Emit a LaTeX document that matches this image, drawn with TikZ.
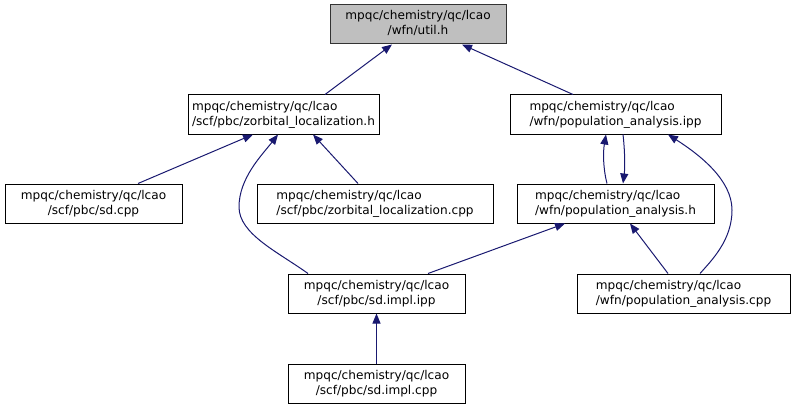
\documentclass[tikz,border=0pt]{standalone}
\usepackage{fontspec}
\setmainfont{DejaVu Sans}
\usetikzlibrary{arrows.meta, positioning}

\definecolor{edgeblue}{RGB}{25,25,112}
\definecolor{rootgray}{RGB}{191,191,191}

% first line flush left, second line centred (as graphviz sets it)
\newcommand{\flabel}[2]{\begin{tabular}{@{}l@{}}#1\\\multicolumn{1}{@{}c@{}}{#2}\end{tabular}}

\begin{document}
\begin{tikzpicture}[
    x=1pt, y=-1pt,
    file/.style={rectangle, draw=black, line width=1pt, minimum height=39pt, inner sep=0pt, font=\fontsize{12.1}{15}\selectfont},
    root/.style={file, fill=rootgray, draw=black!80},
    edge/.style={{Triangle[length=10pt, width=8pt]}-, draw=edgeblue, line width=1pt}
]
    \useasboundingbox (0,0) rectangle (794,409);

    % ========== Top: the header ==========
    \node[root, minimum width=176pt] (util_h) at (418,24.5) {\flabel{mpqc/chemistry/qc/lcao}{/wfn/util.h}};

    % ========== Row 1 ==========
    \node[file, minimum width=191pt] (zorb_h) at (283.5,114.5) {\flabel{mpqc/chemistry/qc/lcao}{/scf/pbc/zorbital\_localization.h}};
    \node[file, minimum width=211pt] (pop_ipp) at (615.5,114.5) {\flabel{mpqc/chemistry/qc/lcao}{/wfn/population\_analysis.ipp}};

    % ========== Row 2 ==========
    \node[file, minimum width=177pt] (sd_cpp) at (93.5,203.5) {\flabel{mpqc/chemistry/qc/lcao}{/scf/pbc/sd.cpp}};
    \node[file, minimum width=236pt] (zorb_cpp) at (375,203.5) {\flabel{mpqc/chemistry/qc/lcao}{/scf/pbc/zorbital\_localization.cpp}};
    \node[file, minimum width=197pt] (pop_h) at (615.5,203.5) {\flabel{mpqc/chemistry/qc/lcao}{/wfn/population\_analysis.h}};

    % ========== Row 3 ==========
    \node[file, minimum width=177pt] (sd_ipp) at (376.5,293.5) {\flabel{mpqc/chemistry/qc/lcao}{/scf/pbc/sd.impl.ipp}};
    \node[file, minimum width=213pt] (pop_cpp) at (683.5,293.5) {\flabel{mpqc/chemistry/qc/lcao}{/wfn/population\_analysis.cpp}};

    % ========== Row 4 ==========
    \node[file, minimum width=177pt, below=50pt of sd_ipp] (sd_impl_cpp) {\flabel{mpqc/chemistry/qc/lcao}{/scf/pbc/sd.impl.cpp}};

    % ========== Includes (arrow at the included file) ==========
    \draw[edge] ([xshift=-26pt]util_h.south) -- ([xshift=41.5pt]zorb_h.north);
    \draw[edge] ([xshift=44pt]util_h.south) -- ([xshift=-42.5pt]pop_ipp.north);

    \draw[edge] ([xshift=-30.5pt]zorb_h.south) -- ([xshift=44.5pt]sd_cpp.north);
    \draw[edge] ([xshift=-5.5pt]zorb_h.south) .. controls (262,155) and (239,178) .. (239,207)
        .. controls (239,234) and (278,252) .. ([xshift=-68.5pt]sd_ipp.north);
    \draw[edge] ([xshift=29.5pt]zorb_h.south) -- ([xshift=-17pt]zorb_cpp.north);

    % population_analysis.h <-> population_analysis.ipp
    \draw[edge] ([xshift=-9.5pt]pop_ipp.south) .. controls (603,152) and (603,168) .. ([xshift=-8.5pt]pop_h.north);
    \draw[edge] ([xshift=7.5pt]pop_h.north) .. controls (625,168) and (625,152) .. ([xshift=7.5pt]pop_ipp.south);
    \draw[edge] ([xshift=52.5pt]pop_ipp.south) .. controls (700,155) and (732,180) .. (732,210)
        .. controls (732,240) and (712,260) .. ([xshift=16.5pt]pop_cpp.north);

    \draw[edge] ([xshift=-50.5pt]pop_h.south) -- ([xshift=51.5pt]sd_ipp.north);
    \draw[edge] ([xshift=14.5pt]pop_h.south) -- ([xshift=-15.5pt]pop_cpp.north);

    \draw[edge] (sd_ipp.south) -- (sd_impl_cpp.north);

\end{tikzpicture}
\end{document}
